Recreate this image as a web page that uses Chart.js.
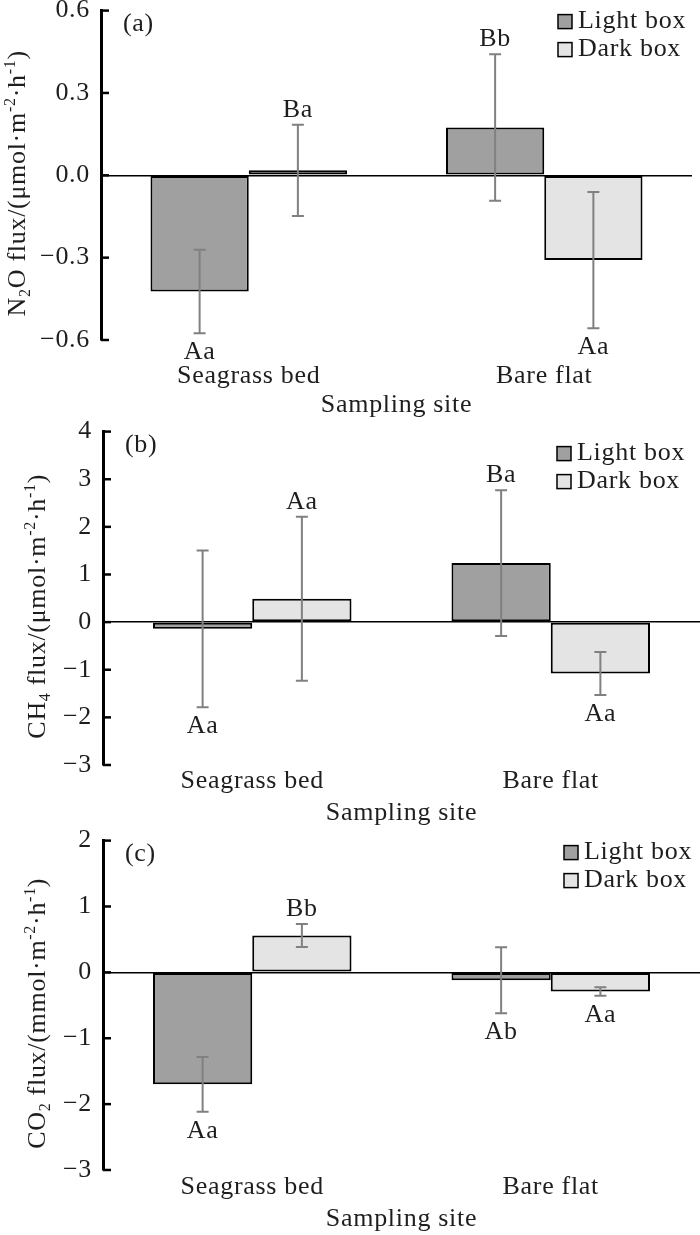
<!DOCTYPE html>
<html>
<head>
<meta charset="utf-8">
<script src="https://cdn.jsdelivr.net/npm/chart.js@4.4.1/dist/chart.umd.min.js"></script>
<style>
  html, body { margin: 0; padding: 0; background: #fff; }
  body { width: 700px; height: 1235px; position: relative; overflow: hidden; }
  .panel { position: absolute; left: 0; width: 700px; }
</style>
</head>
<body>
<div class="panel" style="top:-16px;height:437px"><canvas id="chartA"></canvas></div>
<div class="panel" style="top:405px;height:424px"><canvas id="chartB"></canvas></div>
<div class="panel" style="top:814px;height:421px"><canvas id="chartC"></canvas></div>
<script>
const sites = ["Seagrass bed", "Bare flat"];
const seriesNames = ["Light box", "Dark box"];

// (a) N2O
const n2oLight = [-0.423, 0.174];
const n2oLightSd = [0.152, 0.267];
const n2oLightSig = ["Aa", "Bb"];
const n2oDark = [0.018, -0.309];
const n2oDarkSd = [0.166, 0.248];
const n2oDarkSig = ["Ba", "Aa"];
const n2oTicks = [-0.6, -0.3, 0, 0.3, 0.6];

// (b) CH4
const ch4Light = [-0.14, 1.24];
const ch4LightSd = [1.645, 1.53];
const ch4LightSig = ["Aa", "Ba"];
const ch4Dark = [0.49, -1.08];
const ch4DarkSd = [1.72, 0.45];
const ch4DarkSig = ["Aa", "Aa"];
const ch4Ticks = [-3, -2, -1, 0, 1, 2, 3, 4];

// (c) CO2
const co2Light = [-1.70, -0.12];
const co2LightSd = [0.415, 0.5];
const co2LightSig = ["Aa", "Ab"];
const co2Dark = [0.56, -0.29];
const co2DarkSd = [0.175, 0.065];
const co2DarkSig = ["Bb", "Aa"];
const co2Ticks = [-3, -2, -1, 0, 1, 2];

const FONT = "'Liberation Serif', 'Times New Roman', serif";
const SIZE = 26;
const SPACING = "0.7px";
const INK = "#1e1e1e";
const LIGHT_FILL = "#a0a0a0";
const DARK_FILL = "#e4e4e4";
const ERR_COLOR = "#808080";

function fmt(v, digits) {
  const s = Math.abs(v).toFixed(digits);
  return v < 0 ? "\u2212" + s : s;
}

// the figure's type is slightly spaced out
const spacing = {
  id: "spacing",
  beforeLayout(chart) { chart.ctx.letterSpacing = SPACING; },
  beforeDraw(chart) { chart.ctx.letterSpacing = SPACING; }
};

// error bars, letters, inward ticks, rotated y title, panel tag, legend
const decor = {
  id: "decor",
  afterDatasetsDraw(chart) {
    const ctx = chart.ctx, y = chart.scales.y;
    ctx.save();
    chart.data.datasets.forEach((ds, i) => {
      chart.getDatasetMeta(i).data.forEach((bar, j) => {
        const v = ds.data[j], sd = ds.sd[j];
        const top = y.getPixelForValue(v + sd), bot = y.getPixelForValue(v - sd);
        ctx.strokeStyle = ERR_COLOR;
        ctx.lineWidth = 2;
        ctx.beginPath();
        ctx.moveTo(bar.x, top); ctx.lineTo(bar.x, bot);
        ctx.moveTo(bar.x - 6, top); ctx.lineTo(bar.x + 6, top);
        ctx.moveTo(bar.x - 6, bot); ctx.lineTo(bar.x + 6, bot);
        ctx.stroke();
        ctx.fillStyle = INK;
        ctx.font = SIZE + "px " + FONT;
        ctx.textAlign = "center";
        ctx.textBaseline = "alphabetic";
        ctx.fillText(ds.sig[j], bar.x, v >= 0 ? top - 8 : bot + 26);
      });
    });
    ctx.restore();
  },
  afterDraw(chart, args, opts) {
    const ctx = chart.ctx, y = chart.scales.y, area = chart.chartArea;
    ctx.save();
    // inward tick marks
    ctx.strokeStyle = "#000";
    ctx.lineWidth = 2.5;
    y.ticks.forEach(t => {
      const py = y.getPixelForValue(t.value);
      ctx.beginPath();
      ctx.moveTo(area.left, py);
      ctx.lineTo(area.left + 8, py);
      ctx.stroke();
    });

    // y title with sub/superscripts
    const small = Math.round(SIZE * 0.62);
    let total = 0;
    opts.title.forEach(p => {
      ctx.font = (p.sub || p.sup ? small : SIZE) + "px " + FONT;
      p.w = ctx.measureText(p.t).width;
      total += p.w;
    });
    ctx.translate(area.left - opts.titleGap, (area.top + area.bottom) / 2 + 8);
    ctx.rotate(-Math.PI / 2);
    ctx.fillStyle = INK;
    ctx.textAlign = "left";
    ctx.textBaseline = "alphabetic";
    let x = -total / 2;
    opts.title.forEach(p => {
      ctx.font = (p.sub || p.sup ? small : SIZE) + "px " + FONT;
      ctx.fillText(p.t, x, p.sub ? 5 : p.sup ? -10 : 0);
      x += p.w;
    });
    ctx.restore();
    ctx.save();

    // panel tag
    ctx.font = SIZE + "px " + FONT;
    ctx.fillStyle = INK;
    ctx.textBaseline = "middle";
    ctx.textAlign = "left";
    ctx.fillText(opts.tag, area.left + 22, area.top + 14);

    // legend
    chart.data.datasets.forEach((ds, i) => {
      const cy = area.top + opts.legendTop + i * 28;
      ctx.fillStyle = ds.backgroundColor;
      ctx.fillRect(opts.legendX, cy - 7, 14, 14);
      ctx.strokeStyle = "#000";
      ctx.lineWidth = 1.5;
      ctx.strokeRect(opts.legendX, cy - 7, 14, 14);
      ctx.fillStyle = INK;
      ctx.fillText(ds.label, opts.legendX + 20, cy);
    });
    ctx.restore();
  }
};

function makePanel(id, p) {
  const ticks = p.ticks;
  return new Chart(document.getElementById(id), {
    type: "bar",
    data: {
      labels: sites,
      datasets: [
        { label: seriesNames[0], data: p.light, sd: p.lightSd, sig: p.lightSig,
          backgroundColor: LIGHT_FILL, borderColor: "#000", borderWidth: 2, borderSkipped: false },
        { label: seriesNames[1], data: p.dark, sd: p.darkSd, sig: p.darkSig,
          backgroundColor: DARK_FILL, borderColor: "#000", borderWidth: 2, borderSkipped: false }
      ]
    },
    options: {
      responsive: true,
      maintainAspectRatio: false,
      animation: false,
      layout: { padding: { right: p.padRight, left: 0, top: 0, bottom: 0 } },
      datasets: { bar: { barPercentage: 1, categoryPercentage: 0.665 } },
      scales: {
        x: {
          afterFit: s => { s.height = p.xHeight; },
          grid: { display: false, drawTicks: false },
          border: { display: false },
          ticks: { color: INK, font: { family: FONT, size: SIZE }, padding: p.xPad, maxRotation: 0 },
          title: { display: true, text: "Sampling site", color: INK,
                   font: { family: FONT, size: SIZE }, padding: { top: 0, bottom: 0 } }
        },
        y: {
          min: ticks[0],
          max: ticks[ticks.length - 1],
          afterBuildTicks: s => { s.ticks = ticks.map(v => ({ value: v })); },
          afterFit: s => { s.width = p.axisX; },
          grid: {
            drawTicks: false,
            lineWidth: 1.5,
            color: c => (c.tick && c.tick.value === 0 ? "#000" : "rgba(0,0,0,0)")
          },
          border: { display: true, color: "#000", width: 3 },
          ticks: {
            color: INK,
            font: { family: FONT, size: SIZE },
            padding: 11,
            callback: v => fmt(v, p.digits)
          }
        }
      },
      plugins: {
        legend: { display: false },
        tooltip: { enabled: false },
        decor: { title: p.title, titleGap: p.titleGap, tag: p.tag,
                 legendX: p.legendX, legendTop: p.legendTop }
      }
    },
    plugins: [spacing, decor]
  });
}

makePanel("chartA", {
  light: n2oLight, lightSd: n2oLightSd, lightSig: n2oLightSig,
  dark: n2oDark, darkSd: n2oDarkSd, darkSig: n2oDarkSig,
  ticks: n2oTicks, digits: 1, axisX: 101, padRight: 8, xPad: 21, xHeight: 81,
  titleGap: 76, tag: "(a)", legendX: 558, legendTop: 11,
  title: [{ t: "N" }, { t: "2", sub: true }, { t: "O flux/(\u03bcmol\u00b7m" }, { t: "-2", sup: true },
          { t: "\u00b7h" }, { t: "-1", sup: true }, { t: ")" }]
});

makePanel("chartB", {
  light: ch4Light, lightSd: ch4LightSd, lightSig: ch4LightSig,
  dark: ch4Dark, darkSd: ch4DarkSd, darkSig: ch4DarkSig,
  ticks: ch4Ticks, digits: 0, axisX: 103, padRight: 0, xPad: 1, xHeight: 64,
  titleGap: 58, tag: "(b)", legendX: 557, legendTop: 22,
  title: [{ t: "CH" }, { t: "4", sub: true }, { t: " flux/(\u03bcmol\u00b7m" }, { t: "-2", sup: true },
          { t: "\u00b7h" }, { t: "-1", sup: true }, { t: ")" }]
});

makePanel("chartC", {
  light: co2Light, lightSd: co2LightSd, lightSig: co2LightSig,
  dark: co2Dark, darkSd: co2DarkSd, darkSig: co2DarkSig,
  ticks: co2Ticks, digits: 0, axisX: 103, padRight: 0, xPad: 2, xHeight: 65,
  titleGap: 58, tag: "(c)", legendX: 564, legendTop: 12,
  title: [{ t: "CO" }, { t: "2", sub: true }, { t: " flux/(mmol\u00b7m" }, { t: "-2", sup: true },
          { t: "\u00b7h" }, { t: "-1", sup: true }, { t: ")" }]
});
</script>
</body>
</html>
